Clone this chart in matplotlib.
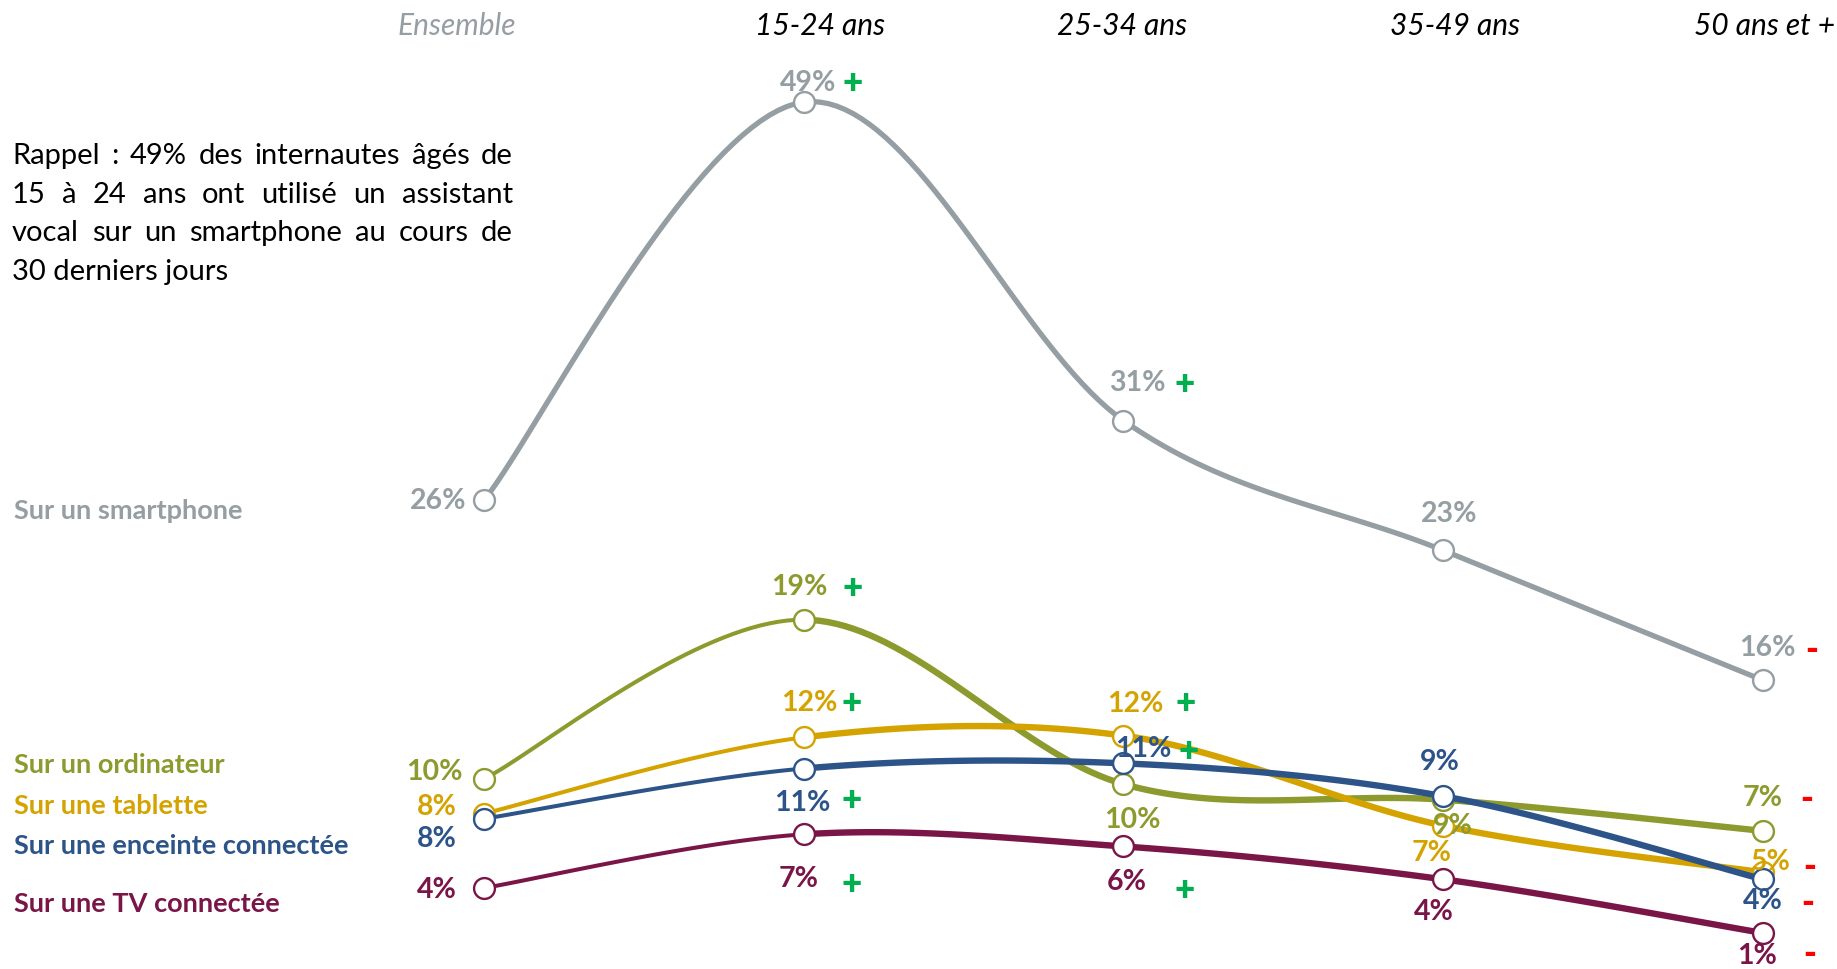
import matplotlib
matplotlib.use("Agg")
import matplotlib.pyplot as plt
import numpy as np

W, H = 1837, 970

ages = ["Ensemble", "15-24 ans", "25-34 ans", "35-49 ans", "50 ans et +"]
series_names = ["Sur un smartphone", "Sur un ordinateur", "Sur une tablette",
                "Sur une enceinte connectée", "Sur une TV connectée"]

# values (%)
smartphone = [26.0, 49.0, 30.6, 23.1, 15.6]
ordinateur = [9.9, 19.1, 9.6, 8.7, 6.9]
tablette = [7.9, 12.3, 12.4, 7.2, 4.5]
enceinte = [7.6, 10.5, 10.8, 8.9, 4.1]
tv = [3.6, 6.7, 6.0, 4.1, 1.0]

smartphone_lbl = ["26%", "49%", "31%", "23%", "16%"]
ordinateur_lbl = ["10%", "19%", "10%", "9%", "7%"]
tablette_lbl = ["8%", "12%", "12%", "7%", "5%"]
enceinte_lbl = ["8%", "11%", "11%", "9%", "4%"]
tv_lbl = ["4%", "7%", "6%", "4%", "1%"]

smartphone_sig = ["", "+", "+", "", "-"]
ordinateur_sig = ["", "+", "", "", "-"]
tablette_sig = ["", "+", "+", "", "-"]
enceinte_sig = ["", "+", "+", "", "-"]
tv_sig = ["", "+", "+", "", "-"]

rappel = ["Rappel : 49% des internautes âgés de",
          "15 à 24 ans ont utilisé un assistant",
          "vocal sur un smartphone au cours de",
          "30 derniers jours"]

colors = ["#959ea2", "#8c9a2e", "#d4a300", "#2c5489", "#7a1548"]
PLUS, MINUS = "#00b050", "#ff0000"
FONT = "Lato"

# label offsets in pixels (value label, sign)
lbl_off = [
    [(-18, 0, "right"), (4, 20, "center"), (14, 39, "center"), (6, 37, "center"), (4, 33, "center")],
    [(-21, 8, "right"), (-4, 34, "center"), (9, -35, "center"), (10, -25, "center"), (0, 34, "center")],
    [(-27, 8, "right"), (6, 35, "center"), (12, 33, "center"), (-12, -26, "center"), (8, 11, "center")],
    [(-27, -19, "right"), (-1, -33, "center"), (20, 15, "center"), (-3, 35, "center"), (0, -21, "center")],
    [(-27, -1, "right"), (-5, -44, "center"), (3, -35, "center"), (-9, -32, "center"), (-6, -22, "center")],
]
sig_off = [
    [None, (49, 20), (61, 37), None, (49, 31)],
    [None, (49, 32), None, None, (44, 32)],
    [None, (48, 35), (62, 33), None, (47, 6)],
    [None, (48, -31), (65, 13), None, (45, -23)],
    [None, (48, -49), (61, -43), None, (47, -21)],
]
name_y = [510, 764, 805, 845, 903]


def smooth(xs, ys, n=40):
    p = np.column_stack([xs, ys]).astype(float)
    ext = np.vstack([p[0], p, p[-1]])
    segs = []
    t = np.linspace(0, 1, n)[:, None]
    for i in range(len(p) - 1):
        p0, p1, p2, p3 = ext[i], ext[i + 1], ext[i + 2], ext[i + 3]
        c1 = p1 + (p2 - p0) / 6
        c2 = p2 - (p3 - p1) / 6
        segs.append((1 - t) ** 3 * p1 + 3 * (1 - t) ** 2 * t * c1
                    + 3 * (1 - t) * t ** 2 * c2 + t ** 3 * p2)
    return segs


def fx(x):
    return x / W


def fy(y):
    return 1 - y / H


fig = plt.figure(figsize=(W / 100, H / 100), dpi=100)
ax = fig.add_axes([0, 0, 1, 1])
x0, step = 484, 319.75
zero, per = 951.3, 17.31
ax.set_xlim(-x0 / step, (W - x0) / step)
ax.set_ylim((zero - H) / per, zero / per)
ax.axis("off")

xs = np.arange(len(ages))
all_vals = [smartphone, ordinateur, tablette, enceinte, tv]
all_lbl = [smartphone_lbl, ordinateur_lbl, tablette_lbl, enceinte_lbl, tv_lbl]
all_sig = [smartphone_sig, ordinateur_sig, tablette_sig, enceinte_sig, tv_sig]

for k, (vals, c) in enumerate(zip(all_vals, colors)):
    segs = smooth(xs, vals)
    first_lw = 3.8 if k == 0 else 2.9
    rest_lw = 3.8 if k == 0 else 4.6
    ax.plot(segs[0][:, 0], segs[0][:, 1], color=c, lw=first_lw,
            solid_capstyle="round", zorder=2 + k)
    rest = np.vstack(segs[1:])
    ax.plot(rest[:, 0], rest[:, 1], color=c, lw=rest_lw,
            solid_capstyle="round", zorder=2 + k)
    ax.plot(xs, vals, "o", ms=15, mfc="white", mec=c, mew=1.7, zorder=2 + k)

    for i in range(len(xs)):
        dx, dy, ha = lbl_off[k][i]
        ax.annotate(all_lbl[k][i], xy=(xs[i], vals[i]), xytext=(dx, dy),
                    textcoords="offset pixels", ha=ha, va="center",
                    color=c, fontsize=20.5, fontweight="bold", family=FONT,
                    zorder=20)
        s = all_sig[k][i]
        if s:
            sdx, sdy = sig_off[k][i]
            ax.annotate(s, xy=(xs[i], vals[i]), xytext=(sdx, sdy),
                        textcoords="offset pixels", ha="center", va="center",
                        color=PLUS if s == "+" else MINUS, fontsize=25,
                        fontweight="heavy", family=FONT, zorder=20)

    fig.text(fx(14), fy(name_y[k] + 9), series_names[k], color=c,
             fontsize=19.5, fontweight="bold", family=FONT, ha="left",
             va="baseline")

# column headers
head_x = [457, 820, 1122, 1455, 1835]
for i, a in enumerate(ages):
    fig.text(fx(head_x[i]), fy(35), a, fontsize=21.5, style="italic",
             family=FONT, color="#959ea2" if i == 0 else "black",
             ha="right" if i == len(ages) - 1 else "center", va="baseline")

# justified reminder paragraph
renderer = fig.canvas.get_renderer()
left, right = 12, 513
for j, line in enumerate(rappel):
    y = fy(164 + 38.7 * j)
    words = line.split()
    if j == len(rappel) - 1:
        fig.text(fx(left), y, line, fontsize=21, family=FONT, va="baseline")
        continue
    texts = [fig.text(0, y, w, fontsize=21, family=FONT, va="baseline")
             for w in words]
    widths = [t.get_window_extent(renderer).width for t in texts]
    gap = (right - left - sum(widths)) / (len(words) - 1)
    x = left
    for t, w in zip(texts, widths):
        t.set_x(fx(x))
        x += w + gap

fig.savefig("out.png", dpi=100, facecolor="white")
